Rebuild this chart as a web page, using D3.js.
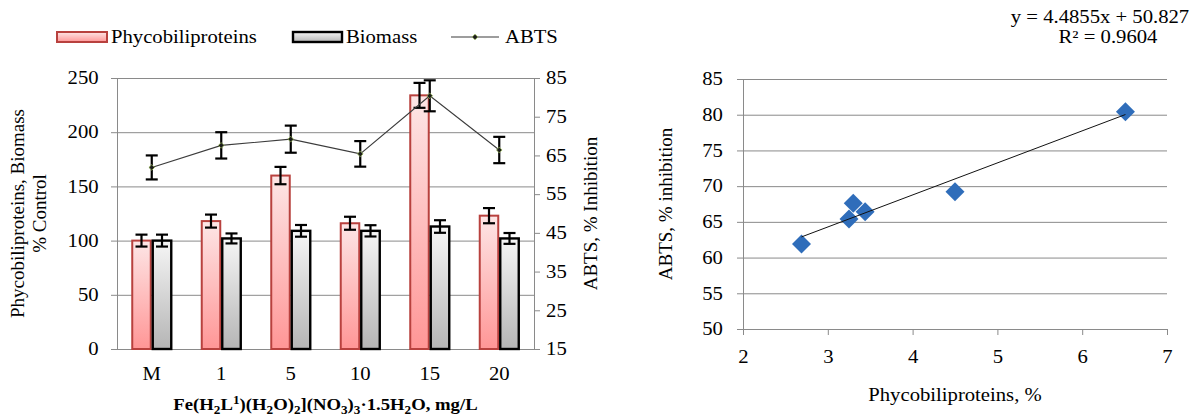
<!DOCTYPE html>
<html><head><meta charset="utf-8">
<script src="https://cdn.jsdelivr.net/npm/d3@7"></script>
<style>
body{margin:0;background:#fff;}
svg{display:block;}
text{font-family:"Liberation Serif","Times New Roman",serif;}
</style></head>
<body><svg id="c" width="1202" height="416"></svg>
<script>
// ---- data ----
const categories = ["M","1","5","10","15","20"];
const phyco      = [100, 118, 160, 116, 234, 123];
const phycoErr   = [5.5, 6, 8, 6, 11.5, 7];
const biomass    = [100, 102, 109, 109, 113, 102];
const biomassErr = [5.5, 4.6, 5.4, 5.2, 5.8, 5];
const abts       = [61.9, 67.6, 69.2, 65.4, 80.4, 66.4];
const abtsErr    = [3.1, 3.4, 3.5, 3.3, 4.0, 3.4];
const leftTicks  = [0,50,100,150,200,250];
const rightTicks = [15,25,35,45,55,65,75,85];
// scatter
const phycoPct   = [2.69, 3.30, 4.50, 3.25, 6.51, 3.44];
const scatterX   = [2,3,4,5,6,7];
const scatterY   = [50,55,60,65,70,75,80,85];
const trendSlope = 4.4855, trendIntercept = 50.827;
const eqText = "y = 4.4855x + 50.827";
const r2Text = "R\u00B2 = 0.9604";

const SX = 1.15, FS = 18, FF = "Liberation Serif";
const svg = d3.select("#c");
const gridCol = "#8a8a8a";

const defs = svg.append("defs");
const gp = defs.append("linearGradient").attr("id","gPink").attr("x1",0).attr("y1",0).attr("x2",0).attr("y2",1);
gp.append("stop").attr("offset","0%").attr("stop-color","#fde6e6");
gp.append("stop").attr("offset","100%").attr("stop-color","#ff9696");
const gg = defs.append("linearGradient").attr("id","gGrey").attr("x1",0).attr("y1",0).attr("x2",0).attr("y2",1);
gg.append("stop").attr("offset","0%").attr("stop-color","#f6f6f6");
gg.append("stop").attr("offset","100%").attr("stop-color","#b5b5b5");

function stxt(g, x, y, s, anchor, size, weight){
  return g.append("text").attr("transform",`translate(${x},${y}) scale(${SX},1)`)
    .attr("text-anchor",anchor||"start").attr("font-size",size||FS).attr("font-family",FF)
    .attr("font-weight",weight||"normal").attr("fill","#000").text(s);
}
function styleTicks(g){
  g.selectAll("text").attr("font-size",FS).attr("font-family",FF).attr("fill","#000").attr("transform",`scale(${SX},1)`);
}

// ---- left chart ----
const L = {x0:117, x1:534, y0:78, y1:349};
const x = d3.scaleBand().domain(categories).range([L.x0,L.x1]).paddingInner(0.41).paddingOuter(0.205);
const xs = d3.scaleBand().domain(["p","b"]).range([0,x.bandwidth()]);
const yL = d3.scaleLinear().domain([0,250]).range([L.y1,L.y0]);
const yR = d3.scaleLinear().domain([15,85]).range([L.y1,L.y0]);

// grid
svg.append("g").attr("transform",`translate(${L.x0},0)`)
  .call(d3.axisLeft(yL).tickValues(leftTicks).tickSize(-(L.x1-L.x0)).tickFormat(""))
  .call(g=>g.select(".domain").remove())
  .call(g=>g.selectAll("line").attr("stroke",gridCol));

// left axis
svg.append("g").attr("transform",`translate(${L.x0},0)`)
  .call(d3.axisLeft(yL).tickValues(leftTicks).tickSize(6).tickPadding(10))
  .call(g=>g.select(".domain").attr("stroke",gridCol))
  .call(g=>g.selectAll("line").attr("stroke",gridCol))
  .call(styleTicks);
// right axis
svg.append("g").attr("transform",`translate(${L.x1},0)`)
  .call(d3.axisRight(yR).tickValues(rightTicks).tickSize(6).tickPadding(4.5))
  .call(g=>g.select(".domain").attr("stroke",gridCol))
  .call(g=>g.selectAll("line").attr("stroke",gridCol))
  .call(styleTicks);
// bottom axis
svg.append("g").attr("transform",`translate(0,${L.y1})`)
  .call(d3.axisBottom(x).tickSize(0).tickPadding(18))
  .call(g=>g.select(".domain").attr("stroke",gridCol))
  .call(styleTicks);

// bars
const idx = d3.range(categories.length);
const bars = svg.append("g");
bars.selectAll("rect.p").data(idx).join("rect")
  .attr("x",i=>x(categories[i])+xs("p")+1).attr("width",xs.bandwidth()-2)
  .attr("y",i=>yL(phyco[i])).attr("height",i=>yL(0)-yL(phyco[i]))
  .attr("fill","url(#gPink)").attr("stroke","#b8413e").attr("stroke-width",2);
bars.selectAll("rect.b").data(idx).join("rect")
  .attr("x",i=>x(categories[i])+xs("b")+1).attr("width",xs.bandwidth()-2)
  .attr("y",i=>yL(biomass[i])).attr("height",i=>yL(0)-yL(biomass[i]))
  .attr("fill","url(#gGrey)").attr("stroke","#000").attr("stroke-width",2.4);

function errBars(g, cx, lo, hi){
  const e = g.append("g").attr("stroke","#000").attr("stroke-width",2.2);
  e.append("line").attr("x1",cx).attr("x2",cx).attr("y1",lo).attr("y2",hi);
  e.append("line").attr("x1",cx-6).attr("x2",cx+6).attr("y1",lo).attr("y2",lo);
  e.append("line").attr("x1",cx-6).attr("x2",cx+6).attr("y1",hi).attr("y2",hi);
}
idx.forEach(i=>{
  const cp = x(categories[i])+xs("p")+xs.bandwidth()/2;
  const cb = x(categories[i])+xs("b")+xs.bandwidth()/2;
  errBars(bars,cp,yL(phyco[i]-phycoErr[i]),yL(phyco[i]+phycoErr[i]));
  errBars(bars,cb,yL(biomass[i]-biomassErr[i]),yL(biomass[i]+biomassErr[i]));
});

// ABTS line
const cx = i=>x(categories[i])+x.bandwidth()/2;
svg.append("path").attr("d",d3.line().x(i=>cx(i)).y(i=>yR(abts[i]))(idx))
  .attr("fill","none").attr("stroke","#3c3c3c").attr("stroke-width",1.1);
idx.forEach(i=>errBars(svg,cx(i),yR(abts[i]-abtsErr[i]),yR(abts[i]+abtsErr[i])));
svg.append("g").selectAll("path").data(idx).join("path")
  .attr("d",d3.symbol(d3.symbolSquare,16))
  .attr("transform",i=>`translate(${cx(i)},${yR(abts[i])}) rotate(45)`)
  .attr("fill","#1b1b1b").attr("stroke","#9bbb59").attr("stroke-width",0.7);

// legend
const lg = svg.append("g");
lg.append("rect").attr("x",57).attr("y",32).attr("width",50).attr("height",10).attr("fill","url(#gPink)").attr("stroke","#b8413e").attr("stroke-width",2);
stxt(lg,111,43,"Phycobiliproteins","start");
lg.append("rect").attr("x",293).attr("y",32).attr("width",49).attr("height",10).attr("fill","url(#gGrey)").attr("stroke","#000").attr("stroke-width",2.4);
stxt(lg,346,43,"Biomass","start");
lg.append("line").attr("x1",451).attr("x2",499).attr("y1",37).attr("y2",37).attr("stroke","#3c3c3c").attr("stroke-width",1.1);
lg.append("path").attr("d",d3.symbol(d3.symbolSquare,16)).attr("transform","translate(475,37) rotate(45)").attr("fill","#1b1b1b").attr("stroke","#9bbb59").attr("stroke-width",0.7);
stxt(lg,505,43,"ABTS","start");

// axis titles
const tY = (L.y0+L.y1)/2;
function rtxt(xp, yp, s){
  svg.append("text").attr("transform",`translate(${xp},${yp}) rotate(-90)`).attr("text-anchor","middle")
    .attr("font-size",19).attr("font-family",FF).attr("fill","#000").text(s);
}
rtxt(24,tY,"Phycobiliproteins, Biomass");
rtxt(46,tY,"% Control");
rtxt(597,tY,"ABTS, % Inhibition");

const xt = svg.append("text").attr("transform",`translate(${(L.x0+L.x1)/2},410) scale(1.1,1)`)
  .attr("text-anchor","middle").attr("font-size",17).attr("font-family",FF).attr("font-weight","bold");
const parts = [["Fe(H",0],["2",1],["L",0],["1",2],[")(H",0],["2",1],["O)",0],["2",1],["](NO",0],["3",1],[")",0],["3",1],["\u00B71.5H",0],["2",1],["O, mg/L",0]];
let cur = 0;
parts.forEach(([s,t])=>{
  const target = t===1?4:(t===2?-6:0);
  xt.append("tspan").attr("dy",target-cur).attr("font-size",t?12:17).text(s);
  cur = target;
});

// ---- scatter ----
const S = {x0:743, x1:1167, y0:79, y1:329};
const xS = d3.scaleLinear().domain([2,7]).range([S.x0,S.x1]);
const yS = d3.scaleLinear().domain([50,85]).range([S.y1,S.y0]);
svg.append("g").attr("transform",`translate(${S.x0},0)`)
  .call(d3.axisLeft(yS).tickValues(scatterY).tickSize(-(S.x1-S.x0)).tickFormat(""))
  .call(g=>g.select(".domain").remove())
  .call(g=>g.selectAll("line").attr("stroke",gridCol));
svg.append("g").attr("transform",`translate(${S.x0},0)`)
  .call(d3.axisLeft(yS).tickValues(scatterY).tickFormat(d3.format("d")).tickSize(6).tickPadding(11.5))
  .call(g=>g.select(".domain").attr("stroke",gridCol))
  .call(g=>g.selectAll("line").attr("stroke",gridCol))
  .call(styleTicks);
svg.append("g").attr("transform",`translate(0,${S.y1})`)
  .call(d3.axisBottom(xS).tickValues(scatterX).tickFormat(d3.format("d")).tickSize(6).tickPadding(15))
  .call(g=>g.select(".domain").attr("stroke",gridCol))
  .call(g=>g.selectAll("line").attr("stroke",gridCol))
  .call(styleTicks);

svg.append("g").selectAll("path").data(idx).join("path")
  .attr("d",d3.symbol(d3.symbolSquare,180))
  .attr("transform",i=>`translate(${xS(phycoPct[i])},${yS(abts[i])}) rotate(45)`)
  .attr("fill","#2f6dba");
const [tx0,tx1] = d3.extent(phycoPct);
svg.append("line").attr("x1",xS(tx0)).attr("x2",xS(tx1))
  .attr("y1",yS(trendSlope*tx0+trendIntercept)).attr("y2",yS(trendSlope*tx1+trendIntercept))
  .attr("stroke","#111").attr("stroke-width",1);

svg.append("text").attr("transform",`translate(672,${(S.y0+S.y1)/2}) rotate(-90)`).attr("text-anchor","middle")
  .attr("font-size",19).attr("font-family",FF).attr("fill","#000").text("ABTS, % inhibition");
stxt(svg,(S.x0+S.x1)/2,401,"Phycobiliproteins, %","middle");
stxt(svg,1100,23,eqText,"middle");
stxt(svg,1108,43,r2Text,"middle");
</script></body></html>
